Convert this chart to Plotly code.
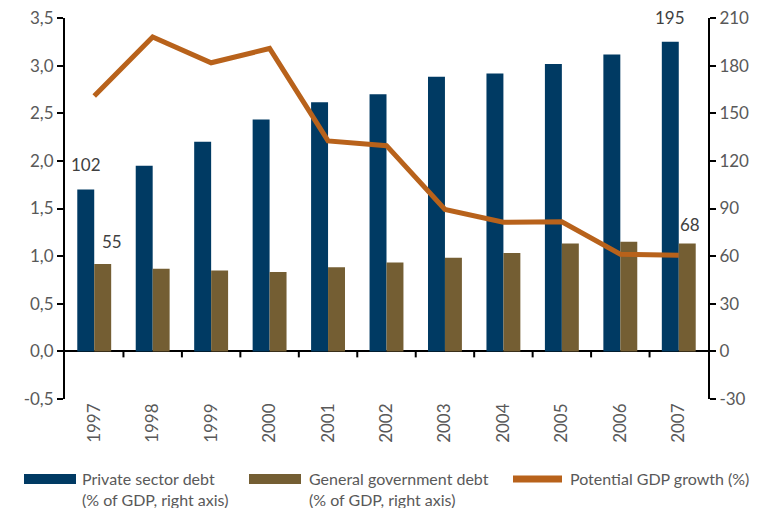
import plotly.graph_objects as go

years = ["1997", "1998", "1999", "2000", "2001", "2002", "2003", "2004", "2005", "2006", "2007"]
private_debt = [102, 117, 132, 146, 157, 162, 173, 175, 181, 187, 195]
gov_debt = [55, 52, 51, 50, 53, 56, 59, 62, 68, 69, 68]
potential_growth = [2.68, 3.30, 3.03, 3.18, 2.21, 2.16, 1.49, 1.355, 1.36, 1.02, 1.01]

left_ticks = [-0.5, 0.0, 0.5, 1.0, 1.5, 2.0, 2.5, 3.0, 3.5]
left_tick_text = ["-0,5", "0,0", "0,5", "1,0", "1,5", "2,0", "2,5", "3,0", "3,5"]
right_ticks = [-30, 0, 30, 60, 90, 120, 150, 180, 210]
right_tick_text = ["-30", "0", "30", "60", "90", "120", "150", "180", "210"]

legend_names = [
    "Private sector debt<br>(% of GDP, right axis)",
    "General government debt<br>(% of GDP, right axis)",
    "Potential GDP growth (%)",
]

FONT = "Lato"
GREY = "#595959"
NAVY = "#003A63"
OLIVE = "#745E33"
ORANGE = "#B8621B"

W, H = 753, 500
ML, MR, MT, MB = 57, 53, 10, 109
PW, PH = W - ML - MR, H - MT - MB


def px(xp):
    return (xp - ML) / PW


def py(yp):
    return (H - MB - yp) / PH


fig = go.Figure()
fig.add_trace(go.Bar(
    x=years, y=private_debt, name=legend_names[0],
    marker=dict(color=NAVY, line=dict(width=0)), yaxis="y",
))
fig.add_trace(go.Bar(
    x=years, y=gov_debt, name=legend_names[1],
    marker=dict(color=OLIVE, line=dict(width=0)), yaxis="y",
))
fig.add_trace(go.Scatter(
    x=years, y=potential_growth, name=legend_names[2],
    mode="lines", line=dict(color=ORANGE, width=5), yaxis="y2",
))

# data labels on first and last bars
label_style = [
    (private_debt, 0, -0.145, 0, 12),
    (private_debt, -1, -0.145, 0, 12),
    (gov_debt, 0, 0.145, 9, 10),
    (gov_debt, -1, 0.145, 3, 6),
]
for series, idx, off, xs, ys in label_style:
    fig.add_annotation(
        x=(idx % len(years)) + off, y=series[idx],
        xref="x", yref="y", text=str(series[idx]), showarrow=False,
        yanchor="bottom", xanchor="center", xshift=xs, yshift=ys,
        font=dict(family=FONT, size=17, color="#404040"),
    )

shapes = []
# tick marks between categories on the zero line
for i in range(len(years) - 1):
    shapes.append(dict(
        type="line", xref="x", yref="y", x0=i + 0.5, x1=i + 0.5,
        ysizemode="pixel", yanchor=0, y0=0, y1=-6,
        line=dict(color="black", width=2),
    ))

# custom legend (wide swatches as in the original)
legend_layout = [
    # swatch x0, x1, text x, kind, colour
    (16, 68, 72, "rect", NAVY),
    (241, 293, 299, "rect", OLIVE),
    (502, 557, 560, "line", ORANGE),
]
sym_y0, sym_y1 = 466, 476
for (x0, x1, tx, kind, color), name in zip(legend_layout, legend_names):
    if kind == "rect":
        shapes.append(dict(
            type="rect", xref="paper", yref="paper",
            x0=px(x0), x1=px(x1), y0=py(sym_y1), y1=py(sym_y0),
            fillcolor=color, line=dict(width=0), layer="above",
        ))
    else:
        shapes.append(dict(
            type="line", xref="paper", yref="paper",
            x0=px(x0 + 3), x1=px(x1 - 3), y0=py(471), y1=py(471),
            line=dict(color=color, width=7), layer="above",
        ))
    fig.add_annotation(
        x=px(tx), y=py(459), xref="paper", yref="paper",
        xanchor="left", yanchor="top", align="left", showarrow=False,
        text=name, font=dict(family=FONT, size=16, color=GREY),
    )

fig.update_layout(
    width=W, height=H,
    margin=dict(l=ML, r=MR, t=MT, b=MB, autoexpand=False),
    paper_bgcolor="white", plot_bgcolor="white",
    separators=",.",
    barmode="group", bargap=0.42, bargroupgap=0,
    font=dict(family=FONT, size=16, color=GREY),
    showlegend=False,
    xaxis=dict(
        type="category", tickangle=-90, showline=False, ticks="",
        showgrid=False, tickfont=dict(family=FONT, size=17, color=GREY),
        anchor="y", automargin=False,
    ),
    yaxis=dict(
        side="right", range=[-30, 210], tickvals=right_ticks, ticktext=right_tick_text,
        showgrid=False, showline=True, linecolor="black", linewidth=2,
        ticks="outside", ticklen=6, tickwidth=2, tickcolor="black",
        zeroline=True, zerolinecolor="black", zerolinewidth=2,
        tickfont=dict(family=FONT, size=17, color=GREY), automargin=False,
        ticklabeloverflow="allow",
    ),
    yaxis2=dict(
        overlaying="y", side="left", range=[-0.5, 3.5], tickvals=left_ticks,
        ticktext=left_tick_text,
        showgrid=False, showline=True, linecolor="black", linewidth=2,
        ticks="outside", ticklen=6, tickwidth=2, tickcolor="black",
        zeroline=False,
        tickfont=dict(family=FONT, size=17, color=GREY), automargin=False,
        ticklabeloverflow="allow",
    ),
    shapes=shapes,
)

fig.write_html("out.html")
